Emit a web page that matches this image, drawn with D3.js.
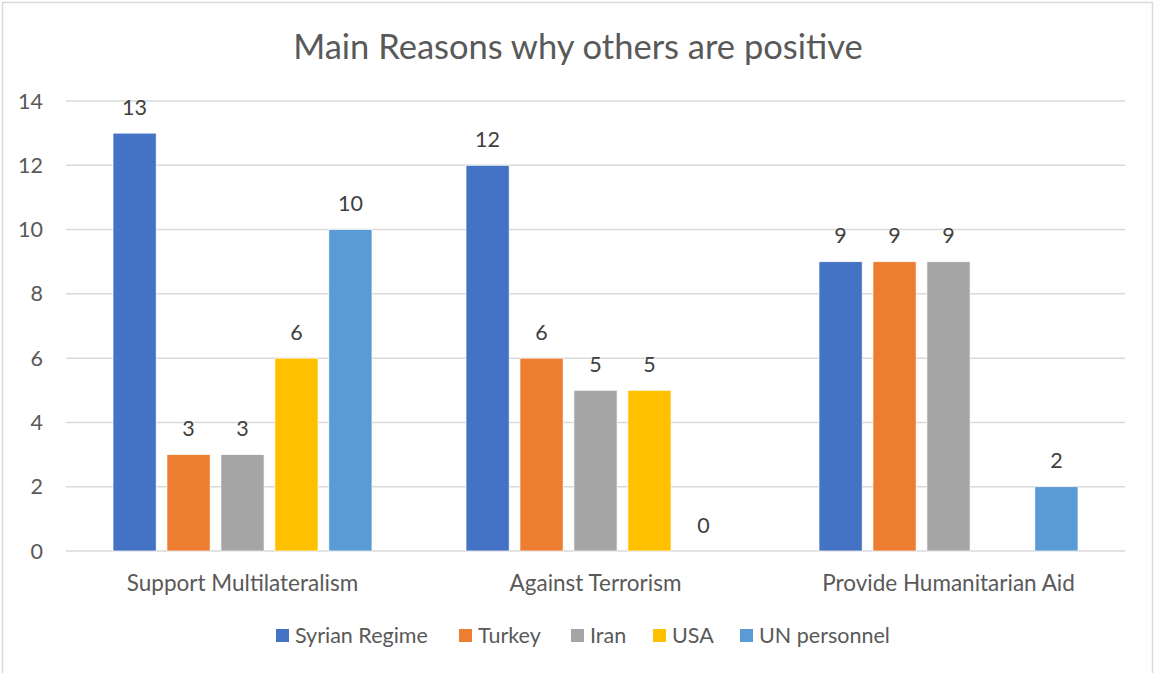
<!DOCTYPE html>
<head>
    <meta charset="UTF-8">
    <script src="https://d3js.org/d3.v7.min.js"></script>
    <style>
        body { margin: 0; background: white; }
        text { font-family: Lato, "Open Sans", sans-serif; fill: #595959; }
    </style>
</head>
<body>
    <div id="viz"></div>
    <script>
        const categories = ["Support Multilateralism", "Against Terrorism", "Provide Humanitarian Aid"];
        const seriesNames = ["Syrian Regime", "Turkey", "Iran", "USA", "UN personnel"];
        const syrianRegime = [13, 12, 9];
        const turkey = [3, 6, 9];
        const iran = [3, 5, 9];
        const usa = [6, 5, null];
        const unPersonnel = [10, 0, 2];
        const yTicks = [0, 2, 4, 6, 8, 10, 12, 14];
        const colors = ["#4472C4", "#ED7D31", "#A5A5A5", "#FFC000", "#5B9BD5"];

        const seriesValues = [syrianRegime, turkey, iran, usa, unPersonnel];

        const width = 1154, height = 673;
        const margin = { left: 66, right: 29, top: 101, bottom: 122 };

        const svg = d3.select("#viz").append("svg")
            .attr("width", width)
            .attr("height", height);

        // chart border
        svg.append("rect")
            .attr("x", 2.5).attr("y", 2.5)
            .attr("width", width - 4).attr("height", height + 10)
            .attr("fill", "white")
            .attr("stroke", "#d9d9d9")
            .attr("stroke-width", 1.5);

        const x0 = d3.scaleBand()
            .domain(categories)
            .range([margin.left, width - margin.right])
            .paddingInner(0)
            .paddingOuter(0);

        // 5 bars of 43 with gaps of 11 inside a 353 wide category
        const x1 = d3.scaleBand()
            .domain(seriesNames)
            .range([47, x0.bandwidth() - 47])
            .paddingInner(0.2)
            .paddingOuter(0);

        const y = d3.scaleLinear()
            .domain([0, 14])
            .range([height - margin.bottom, margin.top]);

        // gridlines
        svg.append("g")
            .selectAll("line")
            .data(yTicks)
            .join("line")
            .attr("x1", margin.left)
            .attr("x2", width - margin.right)
            .attr("y1", d => y(d))
            .attr("y2", d => y(d))
            .attr("stroke", "#d9d9d9")
            .attr("stroke-width", 1.5);

        // y tick labels
        svg.append("g")
            .selectAll("text")
            .data(yTicks)
            .join("text")
            .attr("x", 43)
            .attr("y", d => y(d))
            .attr("dy", "0.35em")
            .attr("text-anchor", "end")
            .style("font-size", "21.5px")
            .text(d => d);

        // bars
        const groups = svg.append("g")
            .selectAll("g")
            .data(categories)
            .join("g")
            .attr("transform", d => `translate(${x0(d)},0)`);

        groups.selectAll("rect")
            .data((c, i) => seriesNames.map((s, j) => ({ s, v: seriesValues[j][i], j })))
            .join("rect")
            .filter(d => d.v !== null)
            .attr("x", d => x1(d.s))
            .attr("y", d => y(d.v))
            .attr("width", x1.bandwidth())
            .attr("height", d => y(0) - y(d.v))
            .attr("fill", d => colors[d.j])
            .attr("stroke", "white")
            .attr("stroke-width", 0.7);

        // data labels
        groups.selectAll("text")
            .data((c, i) => seriesNames.map((s, j) => ({ s, v: seriesValues[j][i], j })).filter(d => d.v !== null))
            .join("text")
            .attr("x", d => x1(d.s) + x1.bandwidth() / 2)
            .attr("y", d => y(d.v) - 26)
            .attr("dy", "0.35em")
            .attr("text-anchor", "middle")
            .style("font-size", "21.5px")
            .style("fill", "#404040")
            .text(d => d.v);

        // category labels
        svg.append("g")
            .selectAll("text")
            .data(categories)
            .join("text")
            .attr("x", d => x0(d) + x0.bandwidth() / 2)
            .attr("y", 583)
            .attr("dy", "0.35em")
            .attr("text-anchor", "middle")
            .style("font-size", "22.5px")
            .text(d => d);

        // title
        svg.append("text")
            .attr("x", 578)
            .attr("y", 47)
            .attr("dy", "0.35em")
            .attr("text-anchor", "middle")
            .style("font-size", "34.5px")
            .text("Main Reasons why others are positive");

        // legend
        const legendX = [276, 459, 571, 653, 740];
        const legend = svg.append("g")
            .selectAll("g")
            .data(seriesNames)
            .join("g")
            .attr("transform", (d, i) => `translate(${legendX[i]},635)`);
        legend.append("rect")
            .attr("x", 0).attr("y", -6)
            .attr("width", 13).attr("height", 13)
            .attr("fill", (d, i) => colors[i]);
        legend.append("text")
            .attr("x", 19)
            .attr("dy", "0.35em")
            .style("font-size", "21.5px")
            .text(d => d);
    </script>
</body>
</html>
